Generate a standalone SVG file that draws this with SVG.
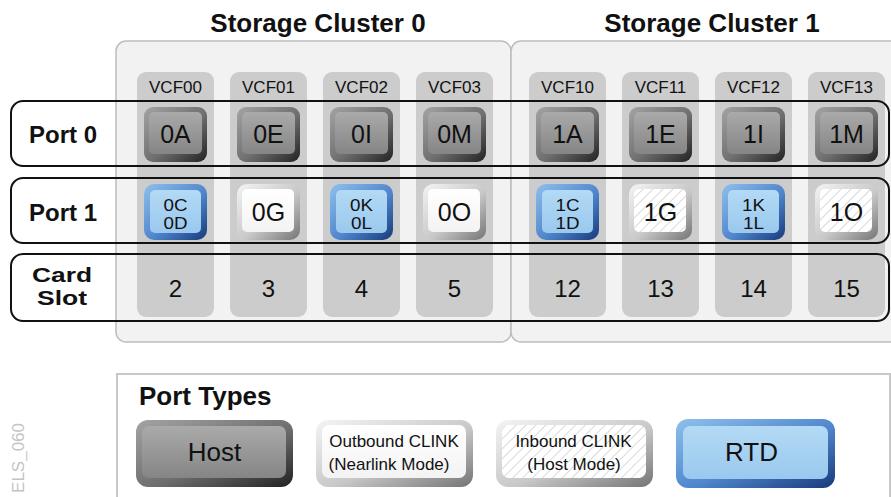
<svg xmlns="http://www.w3.org/2000/svg" width="891" height="497" viewBox="0 0 891 497">
<defs>
<linearGradient id="gdo" x1="0" y1="0" x2="1" y2="1"><stop offset="0" stop-color="#a4a4a4"/><stop offset="0.55" stop-color="#6e6e6e"/><stop offset="1" stop-color="#222"/></linearGradient>
<linearGradient id="gdi" x1="0" y1="0" x2="0" y2="1"><stop offset="0" stop-color="#aaa"/><stop offset="1" stop-color="#858585"/></linearGradient>
<linearGradient id="gbo" x1="0" y1="0" x2="1" y2="1"><stop offset="0" stop-color="#8fc0ec"/><stop offset="0.55" stop-color="#4f86cc"/><stop offset="1" stop-color="#173a7a"/></linearGradient>
<linearGradient id="gbi" x1="0" y1="0" x2="0" y2="1"><stop offset="0" stop-color="#b3daf5"/><stop offset="1" stop-color="#9ac8ee"/></linearGradient>
<linearGradient id="gwo" x1="0" y1="0" x2="1" y2="1"><stop offset="0" stop-color="#f4f4f4"/><stop offset="0.55" stop-color="#c8c8c8"/><stop offset="1" stop-color="#747474"/></linearGradient>
<linearGradient id="gwi" x1="0" y1="0" x2="0" y2="1"><stop offset="0" stop-color="#fff"/><stop offset="1" stop-color="#f3f3f3"/></linearGradient>
<pattern id="hatch" width="7" height="7" patternUnits="userSpaceOnUse" patternTransform="rotate(45)"><rect width="7" height="7" fill="#fff"/><line x1="0" y1="0" x2="0" y2="7" stroke="#c2c2c2" stroke-width="1.2"/></pattern>
</defs>
<style>
text{font-family:"Liberation Sans",Arial,sans-serif;fill:#111;text-anchor:middle}
.b{font-weight:bold}
.title{font-size:26px;font-weight:bold}
.row{font-size:24px;font-weight:bold}
.cs{font-size:20px;font-weight:bold}
.vcf{font-size:17px}
.bt{font-size:25px}
.st{font-size:16.5px}
.num{font-size:24px}
.panel{fill:#f2f2f2;stroke:#bdbdbd;stroke-width:1.5}
.col{fill:#cccccc}
.band{fill:none;stroke:#111;stroke-width:2}
.do{fill:url(#gdo)}.di{fill:url(#gdi)}
.bo{fill:url(#gbo)}.bi{fill:url(#gbi)}
.wo{fill:url(#gwo)}.wi{fill:url(#gwi)}
.hi{fill:url(#hatch)}
.lg{fill:#fff;stroke:#c8c8c8;stroke-width:2}
.lt{font-size:17px}
</style>
<rect width="891" height="497" fill="#fff"/>
<g id="cluster0"><rect class="panel" x="116" y="41" width="395" height="301" rx="10"/><text class="title" x="318" y="32">Storage Cluster 0</text></g>
<g id="cluster1"><rect class="panel" x="511" y="41" width="392" height="301" rx="10"/><text class="title" x="712" y="32">Storage Cluster 1</text></g>
<g id="columns">
<g id="VCF00"><rect class="col" x="137" y="72" width="77" height="245" rx="9"/><text class="vcf" x="175.5" y="93">VCF00</text></g>
<g id="VCF01"><rect class="col" x="230" y="72" width="77" height="245" rx="9"/><text class="vcf" x="268.5" y="93">VCF01</text></g>
<g id="VCF02"><rect class="col" x="323" y="72" width="77" height="245" rx="9"/><text class="vcf" x="361.5" y="93">VCF02</text></g>
<g id="VCF03"><rect class="col" x="416" y="72" width="77" height="245" rx="9"/><text class="vcf" x="454.5" y="93">VCF03</text></g>
<g id="VCF10"><rect class="col" x="529" y="72" width="77" height="245" rx="9"/><text class="vcf" x="567.5" y="93">VCF10</text></g>
<g id="VCF11"><rect class="col" x="622" y="72" width="77" height="245" rx="9"/><text class="vcf" x="660.5" y="93">VCF11</text></g>
<g id="VCF12"><rect class="col" x="715" y="72" width="77" height="245" rx="9"/><text class="vcf" x="753.5" y="93">VCF12</text></g>
<g id="VCF13"><rect class="col" x="808" y="72" width="77" height="245" rx="9"/><text class="vcf" x="846.5" y="93">VCF13</text></g>
</g>
<g id="port0-row"><rect class="band" x="11" y="101" width="878" height="65" rx="12"/><text class="row" x="63" y="143">Port 0</text></g>
<g id="port1-row"><rect class="band" x="11" y="178" width="878" height="65" rx="12"/><text class="row" x="63" y="221">Port 1</text></g>
<g id="slot-row"><rect class="band" x="11" y="254" width="878" height="67" rx="12"/><text class="cs" x="62" y="282" textLength="60" lengthAdjust="spacingAndGlyphs">Card</text><text class="cs" x="62" y="305" textLength="50" lengthAdjust="spacingAndGlyphs">Slot</text></g>
<g id="port0-buttons">
<g id="p0A"><rect class="do" x="144" y="107" width="63" height="55" rx="9"/><rect class="di" x="149" y="112" width="53" height="42" rx="5"/><text class="bt" x="175.5" y="143">0A</text></g>
<g id="p0E"><rect class="do" x="237" y="107" width="63" height="55" rx="9"/><rect class="di" x="242" y="112" width="53" height="42" rx="5"/><text class="bt" x="268.5" y="143">0E</text></g>
<g id="p0I"><rect class="do" x="330" y="107" width="63" height="55" rx="9"/><rect class="di" x="335" y="112" width="53" height="42" rx="5"/><text class="bt" x="361.5" y="143">0I</text></g>
<g id="p0M"><rect class="do" x="423" y="107" width="63" height="55" rx="9"/><rect class="di" x="428" y="112" width="53" height="42" rx="5"/><text class="bt" x="454.5" y="143">0M</text></g>
<g id="p1A"><rect class="do" x="536" y="107" width="63" height="55" rx="9"/><rect class="di" x="541" y="112" width="53" height="42" rx="5"/><text class="bt" x="567.5" y="143">1A</text></g>
<g id="p1E"><rect class="do" x="629" y="107" width="63" height="55" rx="9"/><rect class="di" x="634" y="112" width="53" height="42" rx="5"/><text class="bt" x="660.5" y="143">1E</text></g>
<g id="p1I"><rect class="do" x="722" y="107" width="63" height="55" rx="9"/><rect class="di" x="727" y="112" width="53" height="42" rx="5"/><text class="bt" x="753.5" y="143">1I</text></g>
<g id="p1M"><rect class="do" x="815" y="107" width="63" height="55" rx="9"/><rect class="di" x="820" y="112" width="53" height="42" rx="5"/><text class="bt" x="846.5" y="143">1M</text></g>
</g>
<g id="port1-buttons">
<g id="p0C"><rect class="bo" x="144" y="184" width="63" height="56" rx="10"/><rect class="bi" x="150" y="190" width="51" height="43" rx="5"/><text class="st" x="175.5" y="210.5" textLength="24" lengthAdjust="spacingAndGlyphs">0C</text><text class="st" x="175.5" y="229" textLength="24" lengthAdjust="spacingAndGlyphs">0D</text></g>
<g id="p0G"><rect class="wo" x="237" y="184" width="63" height="56" rx="10"/><rect class="wi" x="242" y="189" width="52" height="43" rx="5"/><text class="bt" x="268.5" y="221">0G</text></g>
<g id="p0K"><rect class="bo" x="330" y="184" width="63" height="56" rx="10"/><rect class="bi" x="336" y="190" width="51" height="43" rx="5"/><text class="st" x="361.5" y="210.5" textLength="23" lengthAdjust="spacingAndGlyphs">0K</text><text class="st" x="361.5" y="229" textLength="21" lengthAdjust="spacingAndGlyphs">0L</text></g>
<g id="p0O"><rect class="wo" x="423" y="184" width="63" height="56" rx="10"/><rect class="wi" x="428" y="189" width="52" height="43" rx="5"/><text class="bt" x="454.5" y="221">0O</text></g>
<g id="p1C"><rect class="bo" x="536" y="184" width="63" height="56" rx="10"/><rect class="bi" x="542" y="190" width="51" height="43" rx="5"/><text class="st" x="567.5" y="210.5" textLength="24" lengthAdjust="spacingAndGlyphs">1C</text><text class="st" x="567.5" y="229" textLength="24" lengthAdjust="spacingAndGlyphs">1D</text></g>
<g id="p1G"><rect class="wo" x="629" y="184" width="63" height="56" rx="10"/><rect class="hi" x="634" y="189" width="52" height="43" rx="5"/><text class="bt" x="660.5" y="221">1G</text></g>
<g id="p1K"><rect class="bo" x="722" y="184" width="63" height="56" rx="10"/><rect class="bi" x="728" y="190" width="51" height="43" rx="5"/><text class="st" x="753.5" y="210.5" textLength="23" lengthAdjust="spacingAndGlyphs">1K</text><text class="st" x="753.5" y="229" textLength="21" lengthAdjust="spacingAndGlyphs">1L</text></g>
<g id="p1O"><rect class="wo" x="815" y="184" width="63" height="56" rx="10"/><rect class="hi" x="820" y="189" width="52" height="43" rx="5"/><text class="bt" x="846.5" y="221">1O</text></g>
</g>
<g id="slots">
<text class="num" x="175.5" y="297">2</text><text class="num" x="268.5" y="297">3</text><text class="num" x="361.5" y="297">4</text><text class="num" x="454.5" y="297">5</text>
<text class="num" x="567.5" y="297">12</text><text class="num" x="660.5" y="297">13</text><text class="num" x="753.5" y="297">14</text><text class="num" x="846.5" y="297">15</text>
</g>
<g id="connectors"/>
<g id="legend">
<rect class="lg" x="117" y="374" width="773" height="140"/>
<text class="b" x="139" y="405" style="font-size:26px;text-anchor:start">Port Types</text>
<g id="lg-host"><rect class="do" x="136" y="420" width="157" height="67" rx="12"/><rect class="di" x="142" y="426" width="144" height="52" rx="7"/><text class="bt" x="214.5" y="461" style="font-size:26px">Host</text></g>
<g id="lg-out"><rect class="wo" x="316" y="420" width="157" height="67" rx="12"/><rect class="wi" x="322" y="425" width="144" height="53" rx="7"/><text class="lt" x="394" y="447">Outbound CLINK</text><text class="lt" x="389" y="470">(Nearlink Mode)</text></g>
<g id="lg-in"><rect class="wo" x="496" y="420" width="157" height="67" rx="12"/><rect class="hi" x="502" y="425" width="144" height="53" rx="7"/><text class="lt" x="573.5" y="447">Inbound CLINK</text><text class="lt" x="574" y="470">(Host Mode)</text></g>
<g id="lg-rtd"><rect class="bo" x="676" y="419" width="159" height="69" rx="12"/><rect class="bi" x="683" y="426" width="145" height="53" rx="7"/><text class="bt" x="751.5" y="461" style="font-size:26px">RTD</text></g>
</g>
<text x="0" y="0" transform="translate(24,423) rotate(-90)" style="font-size:17px;fill:#c4c4c4;text-anchor:end">ELS_060</text>
</svg>
